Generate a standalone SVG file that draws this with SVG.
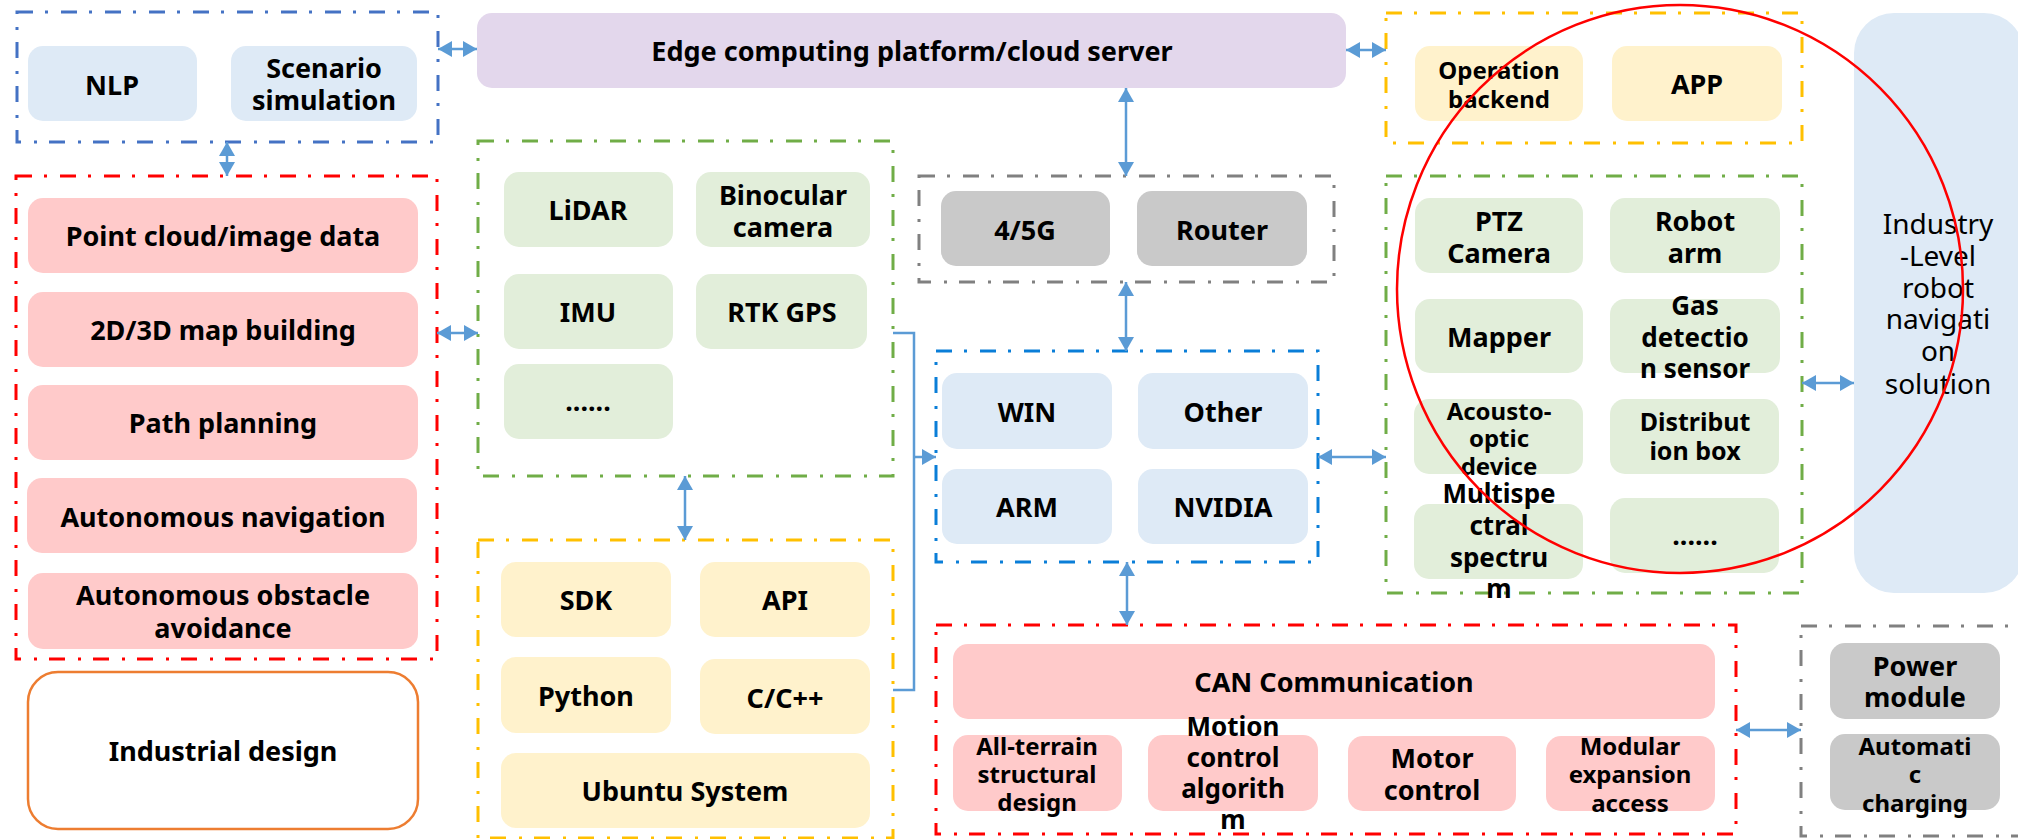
<svg xmlns="http://www.w3.org/2000/svg" width="2018" height="839" viewBox="0 0 2018 839">
<style>
  .bg{fill:#ffffff}
  .grp{fill:none;stroke-width:3;stroke-dasharray:16 12 3 13}
  .g-blue{stroke:#4472C4}
  .g-blue2{stroke:#0A7ED8}
  .g-red{stroke:#FF0000}
  .g-green{stroke:#70AD47}
  .g-yellow{stroke:#FFC000}
  .g-gray{stroke:#808080}
  .n-blue{fill:#DEEAF6}
  .n-red{fill:#FFCACA}
  .n-green{fill:#E2EEDA}
  .n-yellow{fill:#FFF2CC}
  .n-gray{fill:#C9C9C9}
  .n-purple{fill:#E3D7EC}
  text{font-family:"Noto Sans","Open Sans","Liberation Sans",sans-serif;font-weight:bold;font-size:27px;fill:#000;text-anchor:middle;dominant-baseline:central}
  .s26{font-size:26px}
  .s25{font-size:25px}
  .s24{font-size:24px}
  .reg{font-weight:normal;font-size:28px}
  .conn{stroke:#5B9BD5;stroke-width:2.5;fill:none}
</style>
<defs>
  <marker id="ah" viewBox="0 0 14 16" refX="14" refY="8" markerWidth="14" markerHeight="16" markerUnits="userSpaceOnUse" orient="auto-start-reverse">
    <path d="M0,0 L14,8 L0,16 z" fill="#5B9BD5"/>
  </marker>
</defs>
<rect class="bg" x="0" y="0" width="2018" height="839"/>

<!-- group frames -->
<g id="frames">
  <rect class="grp g-blue" x="17" y="12" width="421" height="130"/>
  <rect class="grp g-red" x="16" y="176" width="421" height="483"/>
  <rect class="grp g-green" x="478" y="141" width="415" height="335"/>
  <rect class="grp g-yellow" x="478" y="540" width="415" height="298"/>
  <rect class="grp g-gray" x="919" y="176" width="415" height="106"/>
  <rect class="grp g-blue2" x="936" y="351" width="382" height="211"/>
  <rect class="grp g-red" x="936" y="625" width="800" height="209"/>
  <rect class="grp g-yellow" x="1386" y="13" width="416" height="130"/>
  <rect class="grp g-green" x="1386" y="176" width="416" height="417"/>
  <rect class="grp g-gray" x="1801" y="626" width="228" height="210"/>
</g>

<!-- top-left -->
<g id="n-nlp"><rect class="n-blue" x="28" y="46" width="169" height="75" rx="15"/><text x="112" y="84">NLP</text></g>
<g id="n-scenario"><rect class="n-blue" x="231" y="46" width="186" height="75" rx="15"/><text x="324" y="67">Scenario</text><text x="324" y="99">simulation</text></g>

<g id="n-edge"><rect class="n-purple" x="477" y="13" width="869" height="75" rx="15"/><text x="912" y="50">Edge computing platform/cloud server</text></g>

<g id="n-opbackend"><rect class="n-yellow" x="1415" y="46" width="168" height="75" rx="15"/><text class="s24" x="1499" y="69">Operation</text><text class="s24" x="1499" y="98">backend</text></g>
<g id="n-app"><rect class="n-yellow" x="1612" y="46" width="170" height="75" rx="15"/><text x="1697" y="83">APP</text></g>

<!-- left red -->
<g id="n-pointcloud"><rect class="n-red" x="28" y="198" width="390" height="75" rx="15"/><text x="223" y="235">Point cloud/image data</text></g>
<g id="n-map"><rect class="n-red" x="28" y="292" width="390" height="75" rx="15"/><text x="223" y="329">2D/3D map building</text></g>
<g id="n-path"><rect class="n-red" x="28" y="385" width="390" height="75" rx="15"/><text x="223" y="422">Path planning</text></g>
<g id="n-autonav"><rect class="n-red" x="27" y="478" width="390" height="75" rx="15"/><text x="223" y="516">Autonomous navigation</text></g>
<g id="n-obstacle"><rect class="n-red" x="28" y="573" width="390" height="76" rx="15"/><text x="223" y="594">Autonomous obstacle</text><text x="223" y="627">avoidance</text></g>
<g id="n-industrial"><rect x="28" y="672" width="390" height="157" rx="30" fill="#fff" stroke="#ED7D31" stroke-width="2.5"/><text x="223" y="750">Industrial design</text></g>

<!-- sensors green -->
<g id="n-lidar"><rect class="n-green" x="504" y="172" width="169" height="75" rx="15"/><text x="588" y="209">LiDAR</text></g>
<g id="n-binocular"><rect class="n-green" x="696" y="172" width="174" height="75" rx="15"/><text x="783" y="194">Binocular</text><text x="783" y="226">camera</text></g>
<g id="n-imu"><rect class="n-green" x="504" y="274" width="169" height="75" rx="15"/><text x="588" y="311">IMU</text></g>
<g id="n-rtk"><rect class="n-green" x="696" y="274" width="171" height="75" rx="15"/><text x="782" y="311">RTK GPS</text></g>
<g id="n-sensmore"><rect class="n-green" x="504" y="364" width="169" height="75" rx="15"/><text x="588" y="400">......</text></g>

<!-- software yellow -->
<g id="n-sdk"><rect class="n-yellow" x="501" y="562" width="170" height="75" rx="15"/><text x="586" y="599">SDK</text></g>
<g id="n-api"><rect class="n-yellow" x="700" y="562" width="170" height="75" rx="15"/><text x="785" y="599">API</text></g>
<g id="n-python"><rect class="n-yellow" x="501" y="657" width="170" height="76" rx="15"/><text x="586" y="695">Python</text></g>
<g id="n-cpp"><rect class="n-yellow" x="700" y="659" width="170" height="75" rx="15"/><text x="785" y="697">C/C++</text></g>
<g id="n-ubuntu"><rect class="n-yellow" x="501" y="753" width="369" height="75" rx="15"/><text x="685" y="790">Ubuntu System</text></g>

<!-- network gray -->
<g id="n-45g"><rect class="n-gray" x="941" y="191" width="169" height="75" rx="15"/><text x="1025" y="229">4/5G</text></g>
<g id="n-router"><rect class="n-gray" x="1137" y="191" width="170" height="75" rx="15"/><text x="1222" y="229">Router</text></g>

<!-- compute blue -->
<g id="n-win"><rect class="n-blue" x="942" y="373" width="170" height="76" rx="15"/><text x="1027" y="411">WIN</text></g>
<g id="n-other"><rect class="n-blue" x="1138" y="373" width="170" height="76" rx="15"/><text x="1223" y="411">Other</text></g>
<g id="n-arm"><rect class="n-blue" x="942" y="469" width="170" height="75" rx="15"/><text x="1027" y="506">ARM</text></g>
<g id="n-nvidia"><rect class="n-blue" x="1138" y="469" width="170" height="75" rx="15"/><text x="1223" y="506">NVIDIA</text></g>

<!-- bottom red -->
<g id="n-can"><rect class="n-red" x="953" y="644" width="762" height="75" rx="15"/><text x="1334" y="681">CAN Communication</text></g>
<g id="n-allterrain"><rect class="n-red" x="953" y="735" width="169" height="76" rx="15"/><text class="s24" x="1037" y="745">All-terrain</text><text class="s24" x="1037" y="773">structural</text><text class="s24" x="1037" y="801">design</text></g>
<g id="n-motion"><rect class="n-red" x="1148" y="735" width="170" height="76" rx="15"/><text class="s26" x="1233" y="726">Motion</text><text class="s26" x="1233" y="757">control</text><text class="s26" x="1233" y="788">algorith</text><text class="s26" x="1233" y="819">m</text></g>
<g id="n-motor"><rect class="n-red" x="1348" y="736" width="168" height="75" rx="15"/><text x="1432" y="757">Motor</text><text x="1432" y="789">control</text></g>
<g id="n-modular"><rect class="n-red" x="1546" y="736" width="169" height="75" rx="15"/><text class="s24" x="1630" y="745">Modular</text><text class="s24" x="1630" y="773">expansion</text><text class="s24" x="1630" y="802">access</text></g>

<!-- power gray -->
<g id="n-power"><rect class="n-gray" x="1830" y="643" width="170" height="76" rx="15"/><text x="1915" y="665">Power</text><text x="1915" y="696">module</text></g>
<g id="n-charging"><rect class="n-gray" x="1830" y="734" width="170" height="76" rx="15"/><text class="s24" x="1915" y="745">Automati</text><text class="s24" x="1915" y="773">c</text><text class="s24" x="1915" y="802">charging</text></g>

<!-- devices green right -->
<g id="n-ptz"><rect class="n-green" x="1415" y="198" width="168" height="75" rx="15"/><text x="1499" y="220">PTZ</text><text x="1499" y="252">Camera</text></g>
<g id="n-robotarm"><rect class="n-green" x="1610" y="198" width="170" height="75" rx="15"/><text x="1695" y="220">Robot</text><text x="1695" y="252">arm</text></g>
<g id="n-mapper"><rect class="n-green" x="1415" y="299" width="168" height="74" rx="15"/><text x="1499" y="336">Mapper</text></g>
<g id="n-gas"><rect class="n-green" x="1610" y="299" width="170" height="74" rx="15"/><text class="s26" x="1695" y="305">Gas</text><text class="s26" x="1695" y="337">detectio</text><text class="s26" x="1695" y="368">n sensor</text></g>
<g id="n-acousto"><rect class="n-green" x="1414" y="399" width="169" height="75" rx="15"/><text class="s24" x="1499" y="410">Acousto-</text><text class="s24" x="1499" y="437">optic</text><text class="s24" x="1499" y="465">device</text></g>
<g id="n-distribution"><rect class="n-green" x="1610" y="399" width="169" height="75" rx="15"/><text class="s25" x="1695" y="421">Distribut</text><text class="s25" x="1695" y="450">ion box</text></g>
<g id="n-multispectral"><rect class="n-green" x="1414" y="504" width="169" height="75" rx="15"/><text class="s26" x="1499" y="493">Multispe</text><text class="s26" x="1499" y="525">ctral</text><text class="s26" x="1499" y="557">spectru</text><text class="s26" x="1499" y="588">m</text></g>
<g id="n-devmore"><rect class="n-green" x="1610" y="498" width="169" height="75" rx="15"/><text x="1695" y="534">......</text></g>

<!-- industry -->
<g id="n-industry"><rect class="n-blue" x="1854" y="13" width="170" height="580" rx="40"/>
  <text class="reg" x="1938" y="223">Industry</text><text class="reg" x="1938" y="255">-Level</text><text class="reg" x="1938" y="287">robot</text><text class="reg" x="1938" y="318">navigati</text><text class="reg" x="1938" y="350">on</text><text class="reg" x="1938" y="383">solution</text>
</g>

<!-- connectors -->
<g id="connectors">
  <line class="conn" x1="438" y1="49" x2="477" y2="49" marker-start="url(#ah)" marker-end="url(#ah)"/>
  <line class="conn" x1="1346" y1="50" x2="1386" y2="50" marker-start="url(#ah)" marker-end="url(#ah)"/>
  <line class="conn" x1="227" y1="142" x2="227" y2="176" marker-start="url(#ah)" marker-end="url(#ah)"/>
  <line class="conn" x1="437" y1="333" x2="478" y2="333" marker-start="url(#ah)" marker-end="url(#ah)"/>
  <line class="conn" x1="1126" y1="88" x2="1126" y2="176" marker-start="url(#ah)" marker-end="url(#ah)"/>
  <line class="conn" x1="1126" y1="282" x2="1126" y2="351" marker-start="url(#ah)" marker-end="url(#ah)"/>
  <line class="conn" x1="685" y1="476" x2="685" y2="540" marker-start="url(#ah)" marker-end="url(#ah)"/>
  <line class="conn" x1="1318" y1="457" x2="1386" y2="457" marker-start="url(#ah)" marker-end="url(#ah)"/>
  <line class="conn" x1="1127" y1="562" x2="1127" y2="625" marker-start="url(#ah)" marker-end="url(#ah)"/>
  <line class="conn" x1="1736" y1="730" x2="1801" y2="730" marker-start="url(#ah)" marker-end="url(#ah)"/>
  <line class="conn" x1="1802" y1="383" x2="1854" y2="383" marker-start="url(#ah)" marker-end="url(#ah)"/>
  <polyline class="conn" points="893,333 914,333 914,690 893,690"/>
  <line class="conn" x1="914" y1="457" x2="936" y2="457" marker-end="url(#ah)"/>
</g>

<!-- annotation ellipse -->
<ellipse id="highlight" cx="1680" cy="289" rx="283" ry="284" fill="none" stroke="#FF0000" stroke-width="2.5"/>
</svg>
